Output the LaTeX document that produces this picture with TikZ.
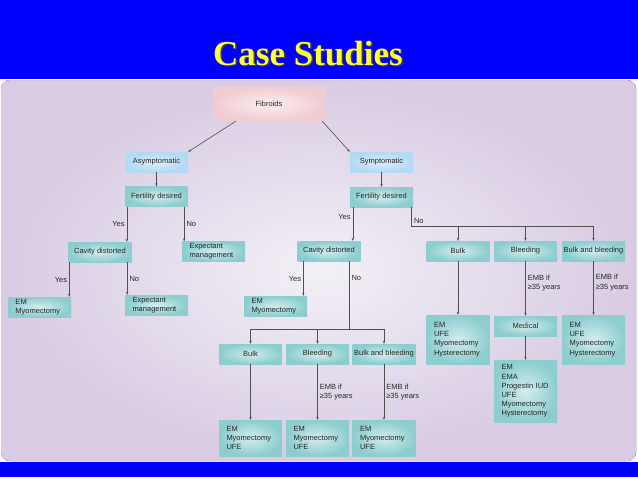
\documentclass[tikz,border=0pt]{standalone}
\usepackage{fontspec}
\setmainfont{Liberation Sans}
\newfontfamily\titlefont{Liberation Serif}
\usetikzlibrary{arrows.meta}

\definecolor{slideblue}{HTML}{0000FF}
\definecolor{titleyellow}{HTML}{FFFF33}
\definecolor{tealedge}{HTML}{8CCDCF}
\definecolor{tealmid}{HTML}{D4ECED}
\definecolor{skyedge}{HTML}{B3D9F4}
\definecolor{skymid}{HTML}{DDEFFB}
\definecolor{pinkedge}{HTML}{F1CCD1}
\definecolor{pinkmid}{HTML}{FAEEF0}
\definecolor{lavedge}{HTML}{D8CBE3}
\definecolor{lavmid}{HTML}{F3F0F6}
\definecolor{linegray}{HTML}{505050}

\begin{document}
\begin{tikzpicture}[x=1pt, y=-1pt,
    box/.style={rectangle, inner color=tealmid, outer color=tealedge, minimum width=63pt, minimum height=20pt, inner sep=1pt, font=\fontsize{7.5}{9.2}\selectfont, text=black!85},
    sympt/.style={box, inner color=skymid, outer color=skyedge},
    root/.style={box, inner color=pinkmid, outer color=pinkedge, minimum width=112pt, minimum height=34pt},
    listbox/.style={box, text width=48pt, inner xsep=7.5pt, align=left},
    lbl/.style={font=\fontsize{7.5}{9.2}\selectfont, text=black!85, inner sep=2pt},
    arrow/.style={->, >={Stealth[length=3pt, width=2.4pt]}, draw=linegray, line width=0.6pt},
    link/.style={draw=linegray, line width=0.6pt}
  ]
    \useasboundingbox (0,0) rectangle (638,479);

    % Slide background
    \fill[white] (0,79) rectangle (638,479);
    \fill[rounded corners=9pt, inner color=lavmid, outer color=lavedge] (1,80) rectangle (636,461);
    \fill[slideblue] (0,0) rectangle (638,79);
    \fill[slideblue] (0,462) rectangle (638,477);

    % Title
    \node[font=\titlefont\bfseries\fontsize{35}{40}\selectfont, text=black!75, anchor=base] (titleshade) at (309.5,66.5) {Case Studies};
    \node[font=\titlefont\bfseries\fontsize{35}{40}\selectfont, text=titleyellow, anchor=base] (title) at (308,65) {Case Studies};

    % Root
    \node[root] (fibroids) at (269,104) {Fibroids};

    % Second layer - symptoms
    \node[sympt] (asym) at (156.5,162) {Asymptomatic};
    \node[sympt] (sym) at (381.5,162) {Symptomatic};

    % Third layer - fertility
    \node[box] (fertL) at (156.5,196.5) {Fertility desired};
    \node[box] (fertR) at (381.5,197) {Fertility desired};

    % Fourth layer
    \node[box] (cavL) at (100,252) {Cavity distorted};
    \node[listbox] (expectA) at (213.5,251.5) {Expectant\\management};
    \node[box] (cavR) at (329,251) {Cavity distorted};
    \node[box] (bulkA) at (458,251) {Bulk};
    \node[box] (bleedA) at (525.5,251) {Bleeding};
    \node[box] (bothA) at (593.5,251) {Bulk and bleeding};

    % Fifth layer
    \node[listbox] (emL) at (39.5,307) {EM\\Myomectomy};
    \node[listbox] (expectB) at (156.5,305) {Expectant\\management};
    \node[listbox] (emR) at (275.5,306) {EM\\Myomectomy};
    \node[listbox, minimum height=49pt] (resBulk) at (458,339.5) {EM\\UFE\\Myomectomy\\Hysterectomy};
    \node[box] (medical) at (525.5,326) {Medical};
    \node[listbox, minimum height=49pt] (resBoth) at (593.5,339.5) {EM\\UFE\\Myomectomy\\Hysterectomy};
    \node[listbox, minimum height=62pt] (resMed) at (525.5,391) {EM\\EMA\\Progestin IUD\\UFE\\Myomectomy\\Hysterectomy};

    % Sixth layer - distorted cavity, no
    \node[box] (bulkB) at (250.5,354) {Bulk};
    \node[box] (bleedB) at (317.5,354) {Bleeding};
    \node[box] (bothB) at (384,354) {Bulk and bleeding};

    % Bottom layer
    \node[listbox, minimum height=36pt] (outBulk) at (250.5,438) {EM\\Myomectomy\\*UFE};
    \node[listbox, minimum height=36pt] (outBleed) at (317.5,438) {EM\\Myomectomy\\*UFE};
    \node[listbox, minimum height=36pt] (outBoth) at (384,438) {EM\\Myomectomy\\*UFE};

    % Arrows - left branch
    \draw[arrow] ([xshift=23pt]fibroids.south west) -- (asym.north east);
    \draw[arrow] ([xshift=-3pt]fibroids.south east) -- (sym.north west);
    \draw[arrow] (asym) -- (fertL);
    \draw[arrow] ([xshift=2pt]fertL.south west) -- node[lbl, left] {Yes} ([xshift=2pt]fertL.south west |- cavL.north);
    \draw[arrow] ([xshift=-4pt]fertL.south east) -- node[lbl, right] {No} ([xshift=-4pt]fertL.south east |- expectA.north);
    \draw[arrow] ([xshift=1pt]cavL.south west) -- node[lbl, left] {Yes} ([xshift=1pt]cavL.south west |- emL.north);
    \draw[arrow] ([xshift=-4.5pt]cavL.south east) -- node[lbl, right] {No} ([xshift=-4.5pt]cavL.south east |- expectB.north);

    % Arrows - right branch
    \draw[arrow] (sym) -- (fertR);
    \draw[arrow] ([xshift=3pt]fertR.south west) -- node[lbl, left, pos=0.3] {Yes} ([xshift=3pt]fertR.south west |- cavR.north);
    \coordinate (forkR) at (593.5,226);
    \draw[link] ([xshift=-1.5pt]fertR.south east) |- node[lbl, above right] {No} (forkR);
    \draw[arrow] (bulkA.north |- forkR) -- (bulkA);
    \draw[arrow] (bleedA.north |- forkR) -- (bleedA);
    \draw[arrow] (forkR) -- (bothA);
    \draw[arrow] (bulkA) -- (resBulk);
    \draw[arrow] (bleedA) -- node[lbl, right, align=left, pos=0.4] {EMB if\\≥35 years} (medical);
    \draw[arrow] (bothA) -- node[lbl, right, align=left, pos=0.4] {EMB if\\≥35 years} (resBoth);
    \draw[arrow] (medical) -- (resMed);

    % Arrows - distorted cavity
    \draw[arrow] ([xshift=6pt]cavR.south west) -- node[lbl, left] {Yes} ([xshift=6pt]cavR.south west |- emR.north);
    \coordinate (forkB) at (250.5,329);
    \draw[link] ([xshift=-11.5pt]cavR.south east) -- node[lbl, right, pos=0.25] {No} ([xshift=-11.5pt]cavR.south east |- forkB);
    \draw[link] (forkB) -- (bothB.north |- forkB);
    \draw[arrow] (forkB) -- (bulkB);
    \draw[arrow] (bleedB.north |- forkB) -- (bleedB);
    \draw[arrow] (bothB.north |- forkB) -- (bothB);
    \draw[arrow] (bulkB) -- (outBulk);
    \draw[arrow] (bleedB) -- node[lbl, right, align=left] {EMB if\\≥35 years} (outBleed);
    \draw[arrow] (bothB) -- node[lbl, right, align=left] {EMB if\\≥35 years} (outBoth);

  \end{tikzpicture}
\end{document}
